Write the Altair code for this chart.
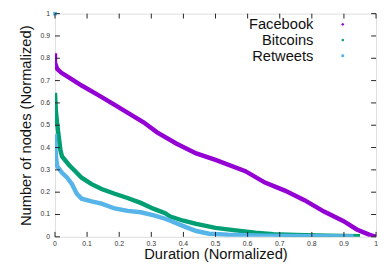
import altair as alt
import pandas as pd

# ---- data ----
fb_x = [0.0, 0.0, 0.007, 0.02, 0.043, 0.083, 0.135, 0.186, 0.236, 0.277, 0.318, 0.379, 0.44, 0.50, 0.593,
        0.654, 0.716, 0.777, 0.838, 0.899, 0.94, 0.98, 1.0]
fb_y = [0.823, 0.78, 0.752, 0.735, 0.714, 0.678, 0.635, 0.591, 0.548, 0.512, 0.468, 0.417, 0.374, 0.345, 0.294,
        0.243, 0.207, 0.164, 0.113, 0.070, 0.033, 0.009, 0.0]

bt_x = [0.0, 0.003, 0.007, 0.017, 0.022, 0.043, 0.063, 0.083, 0.114, 0.145, 0.186, 0.226, 0.267, 0.308,
        0.343, 0.359, 0.40, 0.44, 0.50, 0.563, 0.624, 0.68, 0.75, 0.85, 0.95]
bt_y = [0.645, 0.56, 0.504, 0.388, 0.36, 0.323, 0.294, 0.265, 0.236, 0.214, 0.193, 0.174, 0.152, 0.125,
        0.106, 0.091, 0.072, 0.058, 0.040, 0.029, 0.019, 0.012, 0.008, 0.005, 0.003]

rt_x = [0.0, 0.003, 0.007, 0.022, 0.038, 0.053, 0.068, 0.083, 0.114, 0.145, 0.186, 0.226, 0.267, 0.308,
        0.343, 0.359, 0.40, 0.44, 0.48, 0.54, 0.65, 0.8, 0.93]
rt_y = [0.46, 0.36, 0.316, 0.287, 0.265, 0.236, 0.193, 0.171, 0.159, 0.149, 0.127, 0.116, 0.110, 0.096,
        0.081, 0.072, 0.048, 0.026, 0.014, 0.009, 0.005, 0.003, 0.002]

rt_extra_x = [0.0]
rt_extra_y = [1.0]

series = ["Facebook", "Bitcoins", "Retweets"]
colors = ["#9400d3", "#009e73", "#56b4e9"]
ticks = [0, 0.1, 0.2, 0.3, 0.4, 0.5, 0.6, 0.7, 0.8, 0.9, 1]
tick_labels = ["0", "0.1", "0.2", "0.3", "0.4", "0.5", "0.6", "0.7", "0.8", "0.9", "1"]

W, H = 328, 228
FONT = "Liberation Sans"

frames = []
for name, xs, ys in [("Facebook", fb_x, fb_y), ("Bitcoins", bt_x, bt_y), ("Retweets", rt_x, rt_y)]:
    frames.append(pd.DataFrame({"x": xs, "y": ys, "series": name, "order": range(len(xs))}))
df = pd.concat(frames, ignore_index=True)
extra = pd.DataFrame({"x": rt_extra_x, "y": rt_extra_y, "series": "Retweets"})
tick_df = pd.DataFrame({"t": ticks, "lab": tick_labels})

xscale = alt.Scale(domain=[0, 1], nice=False, zero=False)
yscale = alt.Scale(domain=[0, 1], nice=False, zero=False)
cscale = alt.Scale(domain=series, range=colors)

base_axis = dict(values=ticks, domain=False, ticks=False, grid=False, labels=False,
                 titleFont=FONT, titleFontSize=15, titleFontWeight="normal", titleColor="#111")

lines = alt.Chart(df).mark_line(strokeWidth=4.5, strokeCap="butt", clip=True).encode(
    x=alt.X("x:Q", scale=xscale, axis=alt.Axis(title="Duration (Normalized)",
                                                titleBaseline="alphabetic", titleY=22, **base_axis)),
    y=alt.Y("y:Q", scale=yscale, axis=alt.Axis(title="Number of nodes (Normalized)",
                                                titleBaseline="alphabetic", titleX=-25, titleY=H / 2,
                                                **base_axis)),
    color=alt.Color("series:N", scale=cscale, legend=None),
    order="order:Q",
    detail="series:N",
)

extra_pts = alt.Chart(extra).mark_square(size=14, opacity=1).encode(
    x=alt.X("x:Q", scale=xscale), y=alt.Y("y:Q", scale=yscale),
    color=alt.Color("series:N", scale=cscale, legend=None),
)

tk = dict(color="#222", strokeWidth=1)
left_t = alt.Chart(tick_df).mark_rule(**tk).encode(y=alt.Y("t:Q", scale=yscale), x=alt.value(0), x2=alt.value(5))
right_t = alt.Chart(tick_df).mark_rule(**tk).encode(y=alt.Y("t:Q", scale=yscale), x=alt.value(W - 5), x2=alt.value(W))
bot_t = alt.Chart(tick_df).mark_rule(**tk).encode(x=alt.X("t:Q", scale=xscale), y=alt.value(H), y2=alt.value(H - 5))
top_t = alt.Chart(tick_df).mark_rule(**tk).encode(x=alt.X("t:Q", scale=xscale), y=alt.value(0), y2=alt.value(5))

lab = dict(fontSize=7, font=FONT, color="#333")
x_labels = alt.Chart(tick_df).mark_text(align="center", baseline="middle", **lab).encode(
    x=alt.X("t:Q", scale=xscale), y=alt.value(H + 7), text="lab:N")
y_labels = alt.Chart(tick_df).mark_text(align="right", baseline="middle", **lab).encode(
    y=alt.Y("t:Q", scale=yscale), x=alt.value(-5), text="lab:N")

legend_layers = []
shapes = ["cross", "cross", "square"]
angles = [0, 45, 0]
for i, name in enumerate(series):
    ld = pd.DataFrame({"series": [name]})
    legend_layers.append(
        alt.Chart(ld).mark_text(align="right", baseline="middle", fontSize=15, font=FONT, color="#111").encode(
            text="series:N", x=alt.value(264), y=alt.value(11 + 16 * i))
    )
    legend_layers.append(
        alt.Chart(ld).mark_point(shape=shapes[i], angle=angles[i], size=8, filled=True, opacity=1).encode(
            color=alt.Color("series:N", scale=cscale, legend=None),
            x=alt.value(294), y=alt.value(11 + 16 * i))
    )

chart = alt.layer(lines, extra_pts, left_t, right_t, bot_t, top_t, x_labels, y_labels,
                  *legend_layers).properties(
    width=W, height=H,
    padding={"left": 48, "top": 3, "right": 2, "bottom": 25},
    autosize=alt.AutoSizeParams(type="none"),
).configure_view(stroke="#111", strokeWidth=1.5).configure(background="white")

chart.save("out.html", embed_options={"renderer": "svg", "actions": False})
